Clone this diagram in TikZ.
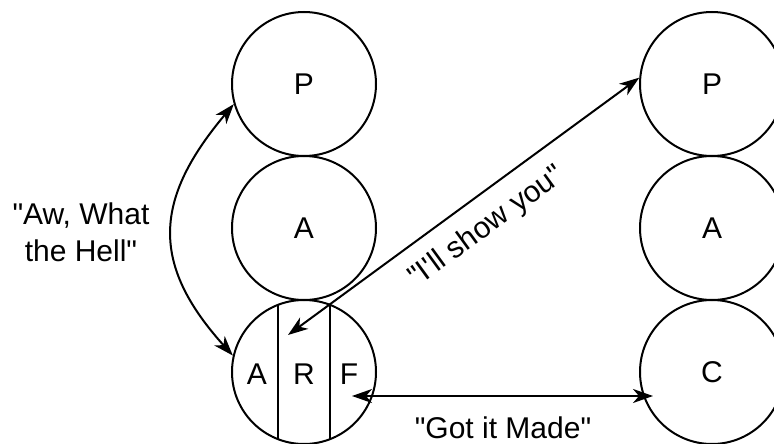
\documentclass[tikz,border=0pt]{standalone}
\usepackage{fontspec}
\newfontfamily\lab{Liberation Sans}
\usetikzlibrary{arrows.meta}
\begin{document}
\begin{tikzpicture}[x=1pt,y=-1pt,
  circ/.style={draw, circle, minimum size=144pt, inner sep=0pt, line width=2pt, font=\lab\fontsize{30}{36}\selectfont},
  lbl/.style={inner sep=0pt, font=\lab\fontsize{30}{37}\selectfont},
  arr/.style={line width=2pt, {Stealth[length=20pt,width=14pt,inset=6pt]}-{Stealth[length=20pt,width=14pt,inset=6pt]}},
  sep/.style={line width=2pt}]
\useasboundingbox (0,0) rectangle (774,444);
% left column
\node[circ] (P1) at (304,84) {P};
\node[circ] (A1) at (304,228) {A};
\node[circ] (L3) at (304,372) {};
\draw[sep] (278,305) -- (278,439);
\draw[sep] (330,305) -- (330,439);
\node[lbl] (la) at (257,374) {A};
\node[lbl] (lr) at (304,374) {R};
\node[lbl] (lf) at (349,374) {F};
% right column
\node[circ] (P2) at (712,84) {P};
\node[circ] (A2) at (712,228) {A};
\node[circ] (C2) at (712,372) {C};
% connectors
\coordinate (rt) at (288,335);
\coordinate (ft) at (352,396);
\coordinate (ct) at (653,396);
\draw[arr] (P1.196) .. controls +(-80,95) and +(-83,-92) .. (L3.167);
\draw[arr] (rt) -- (P2.175);
\draw[arr] (ft) -- (ct);
% labels
\node[lbl, align=center] (aw) at (81,232) {"Aw, What\\the Hell"};
\node[lbl, rotate=36] (show) at (487,227) {"I'll show you"};
\node[lbl] (got) at (503,428) {"Got it Made"};
\end{tikzpicture}
\end{document}
